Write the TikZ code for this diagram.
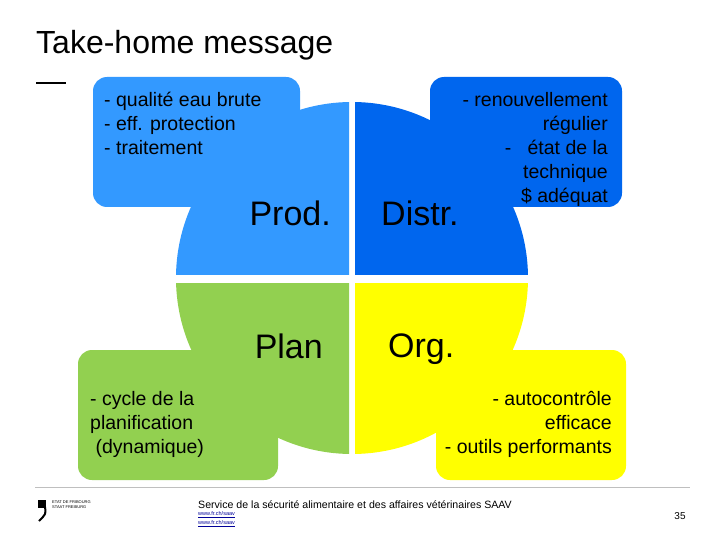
\documentclass[tikz,border=0pt]{standalone}
\usepackage{fontspec}
\setmainfont{Liberation Sans}
\definecolor{lb}{HTML}{3399FF}
\definecolor{db}{HTML}{0066EE}
\definecolor{gr}{HTML}{92D050}
\definecolor{ye}{HTML}{FFFF00}
\begin{document}
\begin{tikzpicture}[x=1pt,y=-1pt,
  box/.style={rounded corners=14pt},
  sm/.style={font=\fontsize{19.5}{24}\selectfont,align=left,inner sep=0pt},
  big/.style={font=\fontsize{34}{38}\selectfont,inner sep=0pt}]
\useasboundingbox (0,0) rectangle (720,540);
\fill[white] (0,0) rectangle (720,540);
\node[anchor=west,font=\fontsize{32}{36}\selectfont,inner sep=0pt] (title) at (36,45) {Take-home message};
\draw[line width=2pt] (36,83) -- (66,83);
% boxes
\fill[lb,box] (93,77) rectangle (300,207);
\fill[db,box] (430,77) rectangle (622,207);
\fill[gr,box] (78,350) rectangle (278,480);
\fill[ye,box] (436,350) rectangle (626,480);
% pie
\def\R{176}
\coordinate (c) at (352,278);
\begin{scope}\clip (0,0) rectangle (349,274); \fill[lb] (c) circle[radius=\R]; \end{scope}
\begin{scope}\clip (355,0) rectangle (720,274); \fill[db] (c) circle[radius=\R]; \end{scope}
\begin{scope}\clip (0,283) rectangle (349,540); \fill[gr] (c) circle[radius=\R]; \end{scope}
\begin{scope}\clip (355,283) rectangle (720,540); \fill[ye] (c) circle[radius=\R]; \end{scope}
\node[big,anchor=east] (prod) at (331,213) {Prod.};
\node[big,anchor=west] (distr) at (381,213) {Distr.};
\node[big,anchor=east] (plan) at (323,346) {Plan};
\node[big,anchor=west] (org) at (388,349) {Org.};
\node[sm,anchor=north west] (t1) at (104,92) {- qualité eau brute\\- eff. protection\\- traitement};
\node[sm,anchor=north east,align=right] (t2) at (608,92) {- renouvellement\\régulier\\- \ \ état de la\\technique\\\$ adéquat};
\node[sm,anchor=north west] (t3) at (90,391) {- cycle de la\\planification\\ \ (dynamique)};
\node[sm,anchor=north east,align=right] (t4) at (612,391) {- autocontrôle\\efficace\\- outils performants};
% footer
\draw[gray!50] (35,487) -- (690,487);
\node[anchor=west,font=\fontsize{10.6}{12}\selectfont,inner sep=0pt] (f1) at (198,505) {Service de la sécurité alimentaire et des affaires vétérinaires SAAV};
\node[anchor=west,font=\fontsize{5.5}{6}\selectfont,inner sep=0pt,text=blue!60!black] (f2) at (198,515) {\underline{www.fr.ch/saav}};
\node[anchor=west,font=\fontsize{5.5}{6}\selectfont,inner sep=0pt,text=blue!60!black] (f3) at (198,524) {\underline{www.fr.ch/saav}};
\node[font=\fontsize{10}{12}\selectfont,inner sep=0pt] (pg) at (680,516) {35};
\fill (38,500) rectangle (46,508);
\draw[line width=2pt] (45,507) .. controls (46,514) .. (39,521);
\node[anchor=north west,font=\fontsize{4}{5}\selectfont,inner sep=0pt,align=left] (logo) at (52,501) {ETAT DE FRIBOURG\\STAAT FREIBURG};
\end{tikzpicture}
\end{document}
